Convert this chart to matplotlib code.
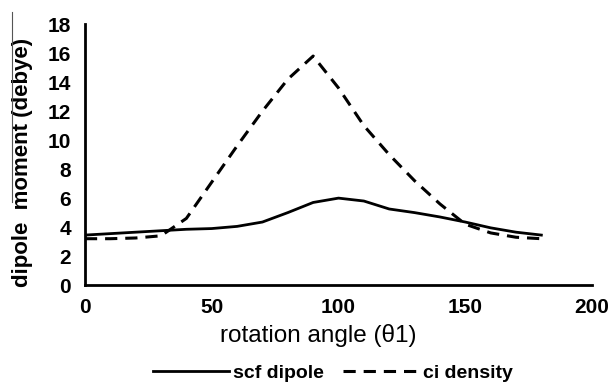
import matplotlib.pyplot as plt
from matplotlib.lines import Line2D

# rotation angle in degrees
angle = [0, 10, 20, 30, 40, 50, 60, 70, 80, 90, 100, 110, 120, 130, 140, 150, 160, 170, 180]
scf_dipole = [3.45, 3.55, 3.65, 3.75, 3.85, 3.9, 4.05, 4.35, 5.0, 5.7, 6.0, 5.8,
              5.25, 5.0, 4.7, 4.35, 3.95, 3.65, 3.45]
ci_density = [3.2, 3.2, 3.25, 3.4, 4.6, 7.1, 9.6, 12.0, 14.2, 15.8, 13.6, 11.0,
              9.0, 7.2, 5.6, 4.2, 3.6, 3.3, 3.2]

x_ticks = [0, 50, 100, 150, 200]
y_ticks = [0, 2, 4, 6, 8, 10, 12, 14, 16, 18]

plt.rcParams['font.family'] = ['Liberation Sans', 'DejaVu Sans']

fig = plt.figure(figsize=(6.11, 3.90), dpi=100)
ax = fig.add_axes([0.139, 0.269, 0.83, 0.669])

dash = (4, 2.6)
ax.plot(angle, scf_dipole, color='black', lw=2.0, label='scf dipole')
ax.plot(angle, ci_density, color='black', lw=2.2, dashes=dash, label='ci density')

ax.set_xlim(0, 200)
ax.set_ylim(0, 18)
ax.set_xticks(x_ticks)
ax.set_yticks(y_ticks)
ax.tick_params(axis='y', length=0, labelsize=15, pad=10)
ax.tick_params(axis='x', length=0, labelsize=15, pad=9)
for lab in ax.get_xticklabels() + ax.get_yticklabels():
    lab.set_fontweight('bold')

for s in ['top', 'right']:
    ax.spines[s].set_visible(False)
for s in ['left', 'bottom']:
    ax.spines[s].set_linewidth(2)

ax.set_xlabel('rotation angle (θ1)', fontsize=17.5)
ax.xaxis.set_label_coords(0.46, -0.15)
ax.set_ylabel('dipole  moment (debye)', fontsize=16, fontweight='bold')
ax.yaxis.set_label_coords(-0.102, 0.47)

# thin stray rule beside the y label, as in the original scan
fig.add_artist(Line2D([0.019, 0.019], [1 - 12 / 390, 1 - 202 / 390],
                      transform=fig.transFigure, color='#555555', lw=0.8))

handles = [Line2D([0], [0], color='black', lw=2.0),
           Line2D([0], [0], color='black', lw=2.2, dashes=dash)]
fig.legend(handles, ['scf dipole', 'ci density'], loc='center',
           bbox_to_anchor=(0.545, 0.044), ncol=2, frameon=False,
           prop={'size': 14, 'weight': 'bold'}, handlelength=3.9,
           columnspacing=1.0, handletextpad=0.2)

fig.savefig('out.png', dpi=100)
